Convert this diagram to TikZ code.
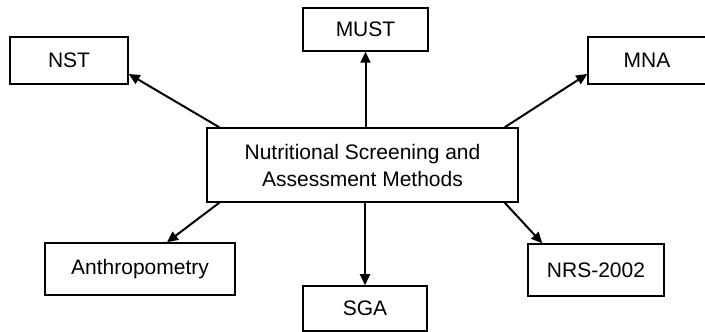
\documentclass[tikz,border=0pt]{standalone}
\usepackage{fontspec}
\setmainfont{Liberation Sans}
\usetikzlibrary{arrows.meta}

\begin{document}
\begin{tikzpicture}[x=1pt,y=1pt,
  box/.style n args={2}{draw,line width=1.5pt,minimum width=#1pt,minimum height=#2pt,inner sep=0pt,font=\fontsize{21}{27}\selectfont,align=center},
  arr/.style={line width=2pt,-{Triangle[length=11pt,width=10pt]}}]
\useasboundingbox (0,0) rectangle (705,332);
\node[box={311}{74}] (main) at (362.5,167) {Nutritional Screening and\\Assessment Methods};
\node[box={118}{47}] (nst) at (69,271.5) {NST};
\node[box={125}{43}] (must) at (365.5,302.5) {MUST};
\node[box={118}{47}] (mna) at (647,271.5) {MNA};
\node[box={190}{52}] (anth) at (140,63) {Anthropometry};
\node[box={124}{45}] (sga) at (365,23.5) {SGA};
\node[box={136}{52}] (nrs) at (596,62) {NRS-2002};
% upper row
\draw[arr] ([xshift=13pt]main.north west) -- ([yshift=-13.5pt]nst.east);
\draw[arr] (main.north -| must.south) -- (must.south);
\draw[arr] ([xshift=-14pt]main.north east) -- ([yshift=-13.5pt]mna.west);
% lower row
\draw[arr] ([xshift=13pt]main.south west) -- ([xshift=27pt]anth.north);
\draw[arr] (main.south -| sga.north) -- (sga.north);
\draw[arr] ([xshift=-14pt]main.south east) -- ([xshift=15pt]nrs.north west);
\end{tikzpicture}
\end{document}
